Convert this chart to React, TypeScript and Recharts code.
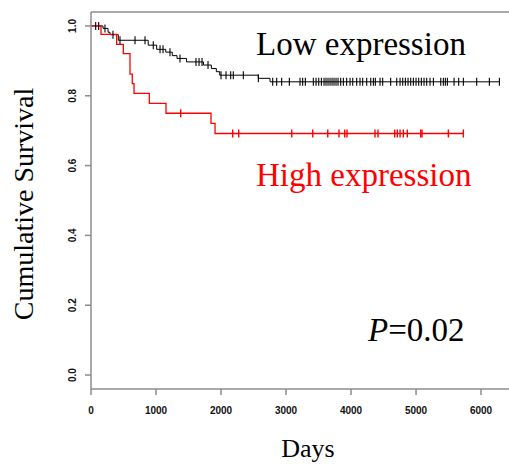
import { LineChart, Line, XAxis, YAxis, ReferenceLine } from 'recharts'

// Kaplan-Meier steps: [days, survival after the drop]
const lowEvents: [number, number][] = [
  [185, 0.993], [262, 0.982], [292, 0.975], [420, 0.959], [880, 0.945], [1010, 0.933],
  [1150, 0.925], [1250, 0.915], [1323, 0.907], [1470, 0.897], [1730, 0.888], [1851, 0.878],
  [1928, 0.869], [1980, 0.859], [2574, 0.85], [2754, 0.84],
]
const lowCensored = [
  72, 118, 215, 338, 446, 677, 831, 958, 1062, 1108, 1215, 1369, 1615, 1662, 1708, 1800,
  2000, 2077, 2149, 2189, 2343, 2574, 2795, 2856, 2933, 3051, 3215, 3256, 3297, 3420, 3462,
  3503, 3544, 3585, 3615, 3646, 3677, 3708, 3738, 3769, 3800, 3841, 3882, 3933, 3985, 4026,
  4087, 4138, 4179, 4241, 4303, 4344, 4374, 4446, 4487, 4610, 4703, 4754, 4795, 4836, 4877,
  4918, 4959, 5000, 5041, 5082, 5123, 5164, 5215, 5267, 5380, 5420, 5451, 5482, 5585, 5656,
  5728, 5933, 6128, 6282,
]
const highEvents: [number, number][] = [
  [154, 0.976], [395, 0.947], [497, 0.921], [600, 0.862], [635, 0.835], [662, 0.807],
  [897, 0.778], [1154, 0.75], [1846, 0.721], [1908, 0.692],
]
const highCensored = [
  1380, 2180, 2272, 3088, 3411, 3642, 3815, 3903, 3938, 4369, 4415, 4672, 4712, 4754, 4805,
  4866, 5072, 5092, 5497, 5728,
]
const xTicks = [0, 1000, 2000, 3000, 4000, 5000, 6000]
const yTicks = [0, 0.2, 0.4, 0.6, 0.8, 1.0]

type Pt = { t: number; s: number; c?: boolean }

function kmPoints(events: [number, number][], censored: number[]): Pt[] {
  const survAt = (t: number) => {
    let s = 1
    for (const [et, es] of events) if (et <= t) s = es
    return s
  }
  const pts: Pt[] = [{ t: 0, s: 1 }]
  events.forEach(([t, s]) => pts.push({ t, s }))
  censored.forEach((t) => pts.push({ t, s: survAt(t), c: true }))
  return pts.sort((a, b) => a.t - b.t)
}

const lowData = kmPoints(lowEvents, lowCensored)
const highData = kmPoints(highEvents, highCensored)

const axisGrey = '#8c8c8c'
const tickFont = '"Liberation Sans", Arial, sans-serif'
const serif = '"Liberation Serif", "Times New Roman", serif'

const censorDot = (color: string, w: number) => (props: any) => {
  const { cx, cy, payload, index } = props
  if (!payload?.c) return <g key={`d${index}`} />
  return <line key={`d${index}`} x1={cx} x2={cx} y1={cy - 4} y2={cy + 4} stroke={color} strokeWidth={w} />
}

const XTick = ({ x, y, payload }: any) => (
  <text x={x} y={y + 17} textAnchor="middle" fontSize={10} fontFamily={tickFont} fontWeight={600} fill="#111">
    {payload.value}
  </text>
)

const YTick = ({ x, y, payload }: any) => (
  <text x={x - 7} y={y} transform={`rotate(-90, ${x - 7}, ${y})`} textAnchor="middle" fontSize={10} fontFamily={tickFont} fontWeight={600} fill="#111">
    {payload.value.toFixed(1)}
  </text>
)

export default function App() {
  return (
    <div style={{ position: 'absolute', left: 0, top: 0, width: 509, height: 465, background: '#fff' }}>
      <LineChart width={509} height={465} margin={{ top: 12, right: 0, bottom: 46, left: 60 }}>
        <XAxis
          type="number"
          dataKey="t"
          domain={[0, 6430]}
          ticks={xTicks}
          allowDataOverflow
          height={30}
          tickSize={6}
          axisLine={{ stroke: axisGrey, strokeWidth: 1.5 }}
          tickLine={{ stroke: axisGrey, strokeWidth: 1.5 }}
          tick={XTick}
        />
        <YAxis
          type="number"
          dataKey="s"
          domain={[-0.04, 1.04]}
          ticks={yTicks}
          allowDataOverflow
          width={31}
          tickSize={6}
          axisLine={{ stroke: axisGrey, strokeWidth: 1.5 }}
          tickLine={{ stroke: axisGrey, strokeWidth: 1.5 }}
          tick={YTick}
        />
        <ReferenceLine y={1.04} stroke={axisGrey} strokeWidth={1.5} />
        <Line
          data={lowData}
          dataKey="s"
          type="stepAfter"
          stroke="#000"
          strokeWidth={1}
          dot={censorDot('#000', 1.1)}
          activeDot={false}
          isAnimationActive={false}
        />
        <Line
          data={highData}
          dataKey="s"
          type="stepAfter"
          stroke="#ff0000"
          strokeWidth={1.3}
          dot={censorDot('#ff0000', 1.4)}
          activeDot={false}
          isAnimationActive={false}
        />
      </LineChart>
      <svg width={509} height={465} style={{ position: 'absolute', left: 0, top: 0, pointerEvents: 'none' }}>
        <text x={256} y={55} fontSize={33} fontFamily={serif} fill="#000">Low expression</text>
        <text x={256} y={186} fontSize={33} fontFamily={serif} fill="#ff0000">High expression</text>
        <text x={368} y={341} fontSize={33} fontFamily={serif} fill="#000">
          <tspan fontStyle="italic">P</tspan>=0.02
        </text>
        <text x={308} y={457} fontSize={26} fontFamily={serif} fill="#000" textAnchor="middle">Days</text>
        <text x={33} y={204} fontSize={28} fontFamily={serif} fill="#000" textAnchor="middle" transform="rotate(-90, 33, 204)">
          Cumulative Survival
        </text>
      </svg>
    </div>
  )
}
